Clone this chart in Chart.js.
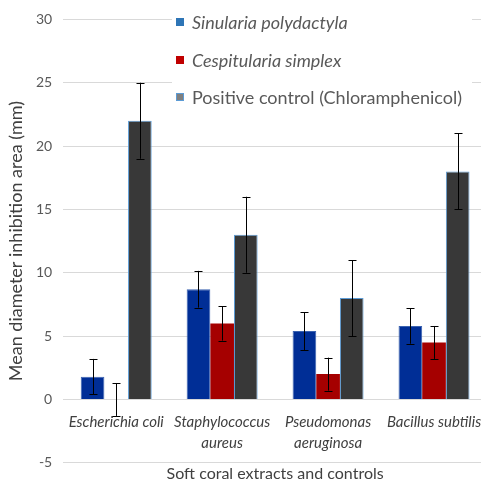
<!DOCTYPE html>
<html>
<head>
<meta charset="utf-8">
<script src="https://cdn.jsdelivr.net/npm/chart.js@4"></script>
<style>
  html, body { margin: 0; padding: 0; background: #fff; overflow: hidden; }
  #wrap { width: 487px; height: 483px; }
</style>
</head>
<body>
<div id="wrap"><canvas id="myBarChart"></canvas></div>
<script>
// データ
const categories = ['Escherichia coli', ['Staphylococcus', 'aureus'], ['Pseudomonas', 'aeruginosa'], 'Bacillus subtilis'];
const seriesNames = ['Sinularia polydactyla', 'Cespitularia simplex', 'Positive control (Chloramphenicol)'];
const sinularia = [1.8, 8.7, 5.4, 5.8];
const sinulariaErr = [1.4, 1.45, 1.5, 1.4];
const cespitularia = [0, 6.0, 2.0, 4.5];
const cespitulariaErr = [1.3, 1.35, 1.3, 1.3];
const control = [22, 13, 8, 18];
const controlErr = [3, 3, 3, 3];

const FONT = 'Lato, "Liberation Sans", sans-serif';

// エラーバーを描くプラグイン
const errorBars = {
    id: 'errorBars',
    afterDatasetsDraw(chart) {
        const ctx = chart.ctx;
        const yScale = chart.scales.y;
        ctx.save();
        ctx.strokeStyle = '#000';
        ctx.lineWidth = 1;
        chart.data.datasets.forEach(function (ds, i) {
            const meta = chart.getDatasetMeta(i);
            meta.data.forEach(function (bar, j) {
                const v = ds.data[j];
                const e = ds.errors[j];
                const x = Math.round(bar.x) + 0.5;
                const yTop = yScale.getPixelForValue(v + e);
                const yBot = yScale.getPixelForValue(v - e);
                ctx.beginPath();
                ctx.moveTo(x, yTop); ctx.lineTo(x, yBot);
                ctx.moveTo(x - 4, Math.round(yTop) + 0.5); ctx.lineTo(x + 4, Math.round(yTop) + 0.5);
                ctx.moveTo(x - 4, Math.round(yBot) + 0.5); ctx.lineTo(x + 4, Math.round(yBot) + 0.5);
                ctx.stroke();
            });
        });
        ctx.restore();
    }
};

// 凡例（Excel風）
const legendBox = {
    id: 'legendBox',
    afterDraw(chart) {
        const ctx = chart.ctx;
        const swatches = ['#2E75B6', '#C00000', '#7F7F7F'];
        const italic = [true, true, false];
        const rows = [22, 60, 97];
        ctx.save();
        ctx.fillStyle = '#fff';
        ctx.fillRect(172, 6, 300, 106);
        rows.forEach(function (y, i) {
            ctx.fillStyle = swatches[i];
            ctx.fillRect(176, y - 4, 8, 8);
            if (i === 2) {
                ctx.strokeStyle = '#5B9BD5';
                ctx.lineWidth = 1;
                ctx.strokeRect(176.5, y - 3.5, 7, 7);
            }
            ctx.fillStyle = '#595959';
            ctx.font = (italic[i] ? 'italic ' : '') + '18px ' + FONT;
            ctx.textBaseline = 'middle';
            ctx.fillText(seriesNames[i], 192, y + 1);
        });
        ctx.restore();
    }
};

const ctx = document.getElementById('myBarChart').getContext('2d');
const myBarChart = new Chart(ctx, {
    type: 'bar',
    data: {
        labels: categories,
        datasets: [
            { label: seriesNames[0], data: sinularia, errors: sinulariaErr, backgroundColor: '#002E96', borderColor: '#3A62B0', borderWidth: 1 },
            { label: seriesNames[1], data: cespitularia, errors: cespitulariaErr, backgroundColor: '#A50000', borderWidth: 0 },
            { label: seriesNames[2], data: control, errors: controlErr, backgroundColor: '#383838', borderColor: '#5B9BD5', borderWidth: 1 }
        ]
    },
    options: {
        responsive: true,
        maintainAspectRatio: false,
        animation: false,
        layout: { padding: { top: 18, right: 0, left: 3, bottom: 0 } },
        datasets: { bar: { categoryPercentage: 0.67, barPercentage: 1.0 } },
        plugins: {
            legend: { display: false },
            tooltip: { enabled: false },
            title: {
                display: true,
                position: 'bottom',
                fullSize: false,
                text: 'Soft coral extracts and controls',
                color: '#404040',
                font: { family: FONT, size: 16, weight: 'normal' },
                padding: { top: 1, bottom: 0 }
            }
        },
        scales: {
            x: {
                position: { y: 0 },
                grid: { display: false },
                border: { display: false },
                ticks: {
                    color: '#404040',
                    font: { family: FONT, size: 15, style: 'italic', lineHeight: 1.35 },
                    padding: 5,
                    maxRotation: 0,
                    autoSkip: false
                }
            },
            y: {
                min: -5,
                max: 30,
                grid: { color: '#D9D9D9', drawTicks: false },
                border: { display: false },
                ticks: {
                    stepSize: 5,
                    color: '#595959',
                    font: { family: FONT, size: 14 },
                    padding: 11
                },
                title: {
                    display: true,
                    text: 'Mean diameter inhibition area (mm)',
                    color: '#404040',
                    font: { family: FONT, size: 18, lineHeight: 1.0 },
                    padding: { top: 4, bottom: 0 }
                }
            }
        }
    },
    plugins: [errorBars, legendBox]
});
</script>
</body>
</html>
